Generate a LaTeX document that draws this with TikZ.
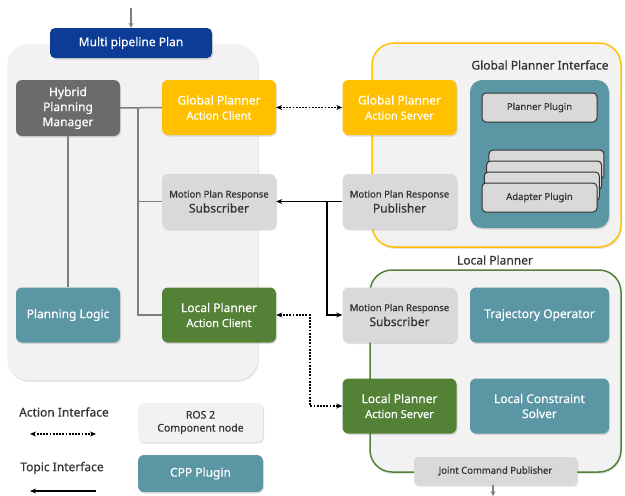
\documentclass[tikz,border=0pt]{standalone}
\usepackage{fontspec}
\setmainfont{Noto Sans}[FakeBold=0.5]
\usetikzlibrary{shadows}
\usetikzlibrary{arrows.meta}
\definecolor{planblue}{RGB}{13,60,151}
\definecolor{gpyellow}{RGB}{255,192,0}
\definecolor{lpgreen}{RGB}{83,129,53}
\definecolor{pluginteal}{RGB}{91,150,165}
\definecolor{mgrgray}{RGB}{107,107,107}
\definecolor{topicgray}{RGB}{217,217,217}
\definecolor{panelgray}{RGB}{242,242,242}
\definecolor{wiregray}{RGB}{127,127,127}
\definecolor{darktext}{RGB}{51,51,51}
\newcommand{\smalltxt}[1]{{\fontsize{11}{13}\selectfont #1}}
\newcommand{\tinytxt}[1]{{\fontsize{9.5}{12}\selectfont #1}}

\begin{document}
\begin{tikzpicture}[x=1pt, y=-1pt,
				box/.style={rectangle, rounded corners=6pt, minimum width=114pt, minimum height=55pt, inner sep=2pt, align=center, font=\fontsize{12}{15}\selectfont, drop shadow={shadow xshift=1pt, shadow yshift=-1.5pt, opacity=0.25}},
				gpbox/.style={box, fill=gpyellow, text=white},
				lpbox/.style={box, fill=lpgreen, text=white},
				tealbox/.style={box, fill=pluginteal, text=white},
				topicbox/.style={box, fill=topicgray, text=darktext},
				panel/.style={rectangle, rounded corners=22pt, fill=panelgray, drop shadow={shadow xshift=1pt, shadow yshift=-2pt, opacity=0.2}},
				plugin/.style={rectangle, rounded corners=4pt, minimum width=115pt, minimum height=29pt, fill=topicgray, draw=darktext, line width=1pt, text=darktext, font=\fontsize{9.5}{11}\selectfont},
				wire/.style={draw=wiregray, line width=1.5pt},
				topic/.style={draw=black, line width=1.5pt, -{Stealth[length=6pt, width=5pt]}},
				action/.style={draw=black, line width=1.8pt, dash pattern=on 1.8pt off 1.4pt, {Stealth[length=6pt, width=5pt]}-{Stealth[length=6pt, width=5pt]}}]
				\useasboundingbox (0,0) rectangle (625,496);
				
				% containers
				\node[panel, minimum width=251pt, minimum height=336pt](mainpanel) at (132.5, 212) {};
				\node[panel, draw=gpyellow, line width=1.5pt, minimum width=249pt, minimum height=204pt](gpipanel) at (496.5, 145) {};
				\node[panel, draw=lpgreen, line width=1.5pt, minimum width=251pt, minimum height=202pt](lppanel) at (495.5, 371) {};
				\node[text=darktext, font=\fontsize{12}{14}\selectfont](gpilabel) at (540, 65) {Global Planner Interface};
				\node[text=darktext, font=\fontsize{12}{14}\selectfont](lplabel) at (495, 260) {Local Planner};
				
				\node[box, fill=planblue, text=white, minimum width=162pt, minimum height=30pt, rounded corners=5pt](mpp) at (131, 43) {Multi pipeline Plan};
				
				% hybrid planning side
				\node[box, fill=mgrgray, text=white, minimum width=104pt, minimum height=56pt](hpm) at (68, 108) {Hybrid\\Planning\\Manager};
				\node[gpbox](gpac) at (219, 107.5) {Global Planner\\\smalltxt{Action Client}};
				\node[topicbox](mprs) at (219, 201.5) {\tinytxt{Motion Plan Response}\\Subscriber};
				\node[tealbox, minimum width=104pt](plogic) at (68, 315) {Planning Logic};
				\node[lpbox](lpac) at (219, 315) {Local Planner\\\smalltxt{Action Client}};
				
				% global planner interface
				\node[gpbox](gpas) at (399.5, 107.5) {Global Planner\\\smalltxt{Action Server}};
				\node[topicbox](mprp) at (399.5, 201.5) {\tinytxt{Motion Plan Response}\\Publisher};
				\node[box, fill=pluginteal, rounded corners=12pt, minimum width=139pt, minimum height=148pt](pluginbox) at (539.5, 154) {};
				\node[plugin](planner) at (539.5, 107.5) {Planner Plugin};
				\foreach \i in {3,2,1}
					\node[plugin] at (539.5+2.3*\i, 197.5-11*\i) {};
				\node[plugin](adapter) at (539.5, 197.5) {Adapter Plugin};
				
				% local planner
				\node[topicbox](lmprs) at (399.5, 315) {\tinytxt{Motion Plan Response}\\Subscriber};
				\node[tealbox, minimum width=139pt](trajop) at (539.5, 315) {Trajectory Operator};
				\node[lpbox](lpas) at (399.5, 406) {Local Planner\\\smalltxt{Action Server}};
				\node[tealbox, minimum width=139pt](lcs) at (539.5, 406) {Local Constraint\\Solver};
				\node[topicbox, minimum width=163pt, minimum height=28pt, rounded corners=4pt, font=\fontsize{9.5}{11}\selectfont](jcp) at (495.5, 471) {Joint Command Publisher};
				
				% legend
				\node[text=darktext, font=\fontsize{12}{14}\selectfont](actlabel) at (64, 412) {Action Interface};
				\node[text=darktext, font=\fontsize{12}{14}\selectfont](toplabel) at (62, 468) {Topic Interface};
				\node[box, fill=panelgray, text=darktext, minimum width=125pt, minimum height=39pt, font=\fontsize{10.5}{13}\selectfont](rosnode) at (200.5, 422.5) {ROS 2\\Component node};
				\node[tealbox, minimum width=125pt, minimum height=37pt](cppplug) at (200.5, 473.5) {CPP Plugin};
				\coordinate (actL) at (30, 434);
				\coordinate (actR) at (96, 434);
				\coordinate (topL) at (30, 491);
				\coordinate (topR) at (96, 491);
				
				% connectors
				\coordinate (spine) at (138, 107.5);
				\coordinate (split) at (327, 201.5);
				\coordinate (bend) at (310, 315);
				\coordinate (src) at (131, 8);
				\coordinate (sink) at (493, 496);
				\draw[wire] (hpm.east) -- (gpac.west);
				\draw[wire] (spine) |- (lpac.west);
				\draw[wire] (spine |- mprs.west) -- (mprs.west);
				\draw[wire] (hpm.south) -- (plogic.north);
				\draw[action] (gpac.east) -- (gpas.west);
				\draw[topic] (mprp.west) -- (mprs.east);
				\draw[topic] (split) |- (lmprs.west);
				\draw[action] (lpac.east) -- (bend) |- (lpas.west);
				\draw[wire, -{Stealth[length=5pt, width=5pt]}] (src) -- (mpp.north);
				\draw[wire, -{Stealth[length=5pt, width=5pt]}] (jcp.south -| sink) -- (sink);
				\draw[action] (actL) -- (actR);
				\draw[topic] (topR) -- (topL);
			\end{tikzpicture}
\end{document}
